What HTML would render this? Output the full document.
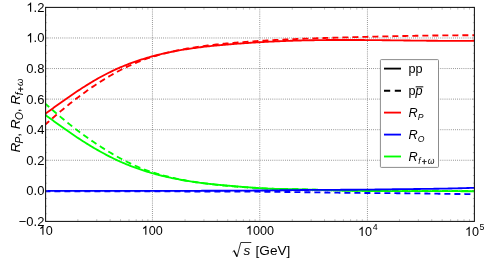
<!DOCTYPE html>
<html><head><meta charset="utf-8"><style>
html,body{margin:0;padding:0;background:#fff;}
svg{display:block;will-change:transform;font-family:"Liberation Sans",sans-serif;}
</style></head><body>
<svg width="485" height="261" viewBox="0 0 485 261">
<rect width="485" height="261" fill="#fff"/>
<g stroke="#2a2a2a" stroke-width="0.6" stroke-dasharray="0.8 1.3" fill="none">
<line x1="152.45" y1="7.4" x2="152.45" y2="221.4"/>
<line x1="259.75" y1="7.4" x2="259.75" y2="221.4"/>
<line x1="367.45" y1="7.4" x2="367.45" y2="221.4"/>
<line x1="45.6" y1="190.83" x2="474.4" y2="190.83"/>
<line x1="45.6" y1="160.26" x2="474.4" y2="160.26"/>
<line x1="45.6" y1="129.69" x2="474.4" y2="129.69"/>
<line x1="45.6" y1="99.11" x2="474.4" y2="99.11"/>
<line x1="45.6" y1="68.54" x2="474.4" y2="68.54"/>
<line x1="45.6" y1="37.97" x2="474.4" y2="37.97"/>
</g>
<g fill="none" stroke-width="1.85">
<path d="M45.60,115.10 L47.03,116.15 L48.47,117.21 L49.90,118.26 L51.34,119.31 L52.77,120.35 L54.20,121.40 L55.64,122.43 L57.07,123.47 L58.51,124.50 L59.94,125.53 L61.38,126.55 L62.81,127.57 L64.24,128.58 L65.68,129.59 L67.11,130.59 L68.55,131.59 L69.98,132.58 L71.41,133.56 L72.85,134.54 L74.28,135.50 L75.72,136.47 L77.15,137.42 L78.58,138.37 L80.02,139.31 L81.45,140.24 L82.89,141.16 L84.32,142.07 L85.76,142.98 L87.19,143.87 L88.62,144.76 L90.06,145.63 L91.49,146.49 L92.93,147.35 L94.36,148.19 L95.79,149.02 L97.23,149.84 L98.66,150.65 L100.10,151.45 L101.53,152.24 L102.96,153.02 L104.40,153.80 L105.83,154.57 L107.27,155.33 L108.70,156.08 L110.14,156.82 L111.57,157.54 L113.00,158.26 L114.44,158.96 L115.87,159.64 L117.31,160.31 L118.74,160.97 L120.17,161.61 L121.61,162.24 L123.04,162.86 L124.48,163.46 L125.91,164.05 L127.34,164.64 L128.78,165.21 L130.21,165.77 L131.65,166.32 L133.08,166.86 L134.52,167.39 L135.95,167.91 L137.38,168.42 L138.82,168.93 L140.25,169.43 L141.69,169.91 L143.12,170.39 L144.55,170.86 L145.99,171.32 L147.42,171.78 L148.86,172.22 L150.29,172.65 L151.72,173.07 L153.16,173.47 L154.59,173.87 L156.03,174.27 L157.46,174.65 L158.89,175.02 L160.33,175.39 L161.76,175.75 L163.20,176.10 L164.63,176.44 L166.07,176.77 L167.50,177.09 L168.93,177.41 L170.37,177.72 L171.80,178.03 L173.24,178.33 L174.67,178.62 L176.10,178.90 L177.54,179.18 L178.97,179.45 L180.41,179.72 L181.84,179.98 L183.27,180.23 L184.71,180.48 L186.14,180.72 L187.58,180.96 L189.01,181.19 L190.45,181.41 L191.88,181.63 L193.31,181.84 L194.75,182.04 L196.18,182.25 L197.62,182.44 L199.05,182.63 L200.48,182.81 L201.92,182.99 L203.35,183.17 L204.79,183.34 L206.22,183.51 L207.65,183.67 L209.09,183.83 L210.52,183.99 L211.96,184.14 L213.39,184.29 L214.83,184.44 L216.26,184.59 L217.69,184.73 L219.13,184.87 L220.56,185.01 L222.00,185.14 L223.43,185.27 L224.86,185.40 L226.30,185.53 L227.73,185.66 L229.17,185.78 L230.60,185.90 L232.03,186.02 L233.47,186.14 L234.90,186.26 L236.34,186.38 L237.77,186.49 L239.21,186.61 L240.64,186.72 L242.07,186.83 L243.51,186.94 L244.94,187.05 L246.38,187.16 L247.81,187.26 L249.24,187.37 L250.68,187.47 L252.11,187.58 L253.55,187.68 L254.98,187.78 L256.41,187.88 L257.85,187.97 L259.28,188.07 L260.72,188.16 L262.15,188.25 L263.59,188.34 L265.02,188.43 L266.45,188.51 L267.89,188.59 L269.32,188.66 L270.76,188.72 L272.19,188.77 L273.62,188.83 L275.06,188.87 L276.49,188.91 L277.93,188.95 L279.36,188.98 L280.79,189.01 L282.23,189.04 L283.66,189.06 L285.10,189.09 L286.53,189.11 L287.97,189.13 L289.40,189.15 L290.83,189.16 L292.27,189.18 L293.70,189.19 L295.14,189.20 L296.57,189.25 L298.00,189.29 L299.44,189.33 L300.87,189.38 L302.31,189.42 L303.74,189.47 L305.17,189.51 L306.61,189.55 L308.04,189.59 L309.48,189.64 L310.91,189.68 L312.35,189.71 L313.78,189.75 L315.21,189.79 L316.65,189.83 L318.08,189.87 L319.52,189.90 L320.95,189.94 L322.38,189.98 L323.82,190.02 L325.25,190.06 L326.69,190.10 L328.12,190.14 L329.55,190.19 L330.99,190.23 L332.42,190.28 L333.86,190.32 L335.29,190.37 L336.73,190.41 L338.16,190.45 L339.59,190.49 L341.03,190.53 L342.46,190.57 L343.90,190.61 L345.33,190.65 L346.76,190.69 L348.20,190.72 L349.63,190.76 L351.07,190.79 L352.50,190.82 L353.93,190.84 L355.37,190.85 L356.80,190.87 L358.24,190.88 L359.67,190.89 L361.11,190.91 L362.54,190.92 L363.97,190.93 L365.41,190.94 L366.84,190.95 L368.28,190.96 L369.71,190.97 L371.14,190.98 L372.58,190.99 L374.01,191.00 L375.45,191.01 L376.88,191.02 L378.31,191.02 L379.75,191.03 L381.18,191.04 L382.62,191.04 L384.05,191.05 L385.48,191.06 L386.92,191.06 L388.35,191.07 L389.79,191.07 L391.22,191.08 L392.66,191.08 L394.09,191.08 L395.52,191.09 L396.96,191.09 L398.39,191.10 L399.83,191.10 L401.26,191.10 L402.69,191.11 L404.13,191.11 L405.56,191.11 L407.00,191.12 L408.43,191.12 L409.86,191.12 L411.30,191.12 L412.73,191.13 L414.17,191.13 L415.60,191.13 L417.04,191.14 L418.47,191.14 L419.90,191.14 L421.34,191.14 L422.77,191.15 L424.21,191.15 L425.64,191.15 L427.07,191.16 L428.51,191.16 L429.94,191.16 L431.38,191.16 L432.81,191.16 L434.24,191.17 L435.68,191.17 L437.11,191.17 L438.55,191.17 L439.98,191.18 L441.42,191.18 L442.85,191.18 L444.28,191.18 L445.72,191.18 L447.15,191.18 L448.59,191.19 L450.02,191.19 L451.45,191.19 L452.89,191.19 L454.32,191.19 L455.76,191.19 L457.19,191.19 L458.62,191.19 L460.06,191.20 L461.49,191.20 L462.93,191.20 L464.36,191.20 L465.80,191.20 L467.23,191.20 L468.66,191.20 L470.10,191.20 L471.53,191.20 L472.97,191.20 L474.40,191.20" stroke="#00ff00"/>
<path d="M45.60,103.89 L47.03,105.18 L48.47,106.46 L49.90,107.73 L51.34,108.99 L52.77,110.25 L54.20,111.50 L55.64,112.74 L57.07,113.97 L58.51,115.19 L59.94,116.40 L61.38,117.61 L62.81,118.80 L64.24,119.99 L65.68,121.16 L67.11,122.33 L68.55,123.49 L69.98,124.64 L71.41,125.77 L72.85,126.90 L74.28,128.02 L75.72,129.13 L77.15,130.23 L78.58,131.31 L80.02,132.39 L81.45,133.46 L82.89,134.52 L84.32,135.56 L85.76,136.60 L87.19,137.62 L88.62,138.63 L90.06,139.63 L91.49,140.62 L92.93,141.60 L94.36,142.57 L95.79,143.53 L97.23,144.47 L98.66,145.40 L100.10,146.33 L101.53,147.24 L102.96,148.15 L104.40,149.05 L105.83,149.94 L107.27,150.83 L108.70,151.70 L110.14,152.57 L111.57,153.42 L113.00,154.27 L114.44,155.10 L115.87,155.91 L117.31,156.72 L118.74,157.50 L120.17,158.28 L121.61,159.04 L123.04,159.79 L124.48,160.52 L125.91,161.25 L127.34,161.96 L128.78,162.66 L130.21,163.36 L131.65,164.04 L133.08,164.70 L134.52,165.36 L135.95,166.00 L137.38,166.63 L138.82,167.24 L140.25,167.83 L141.69,168.41 L143.12,168.97 L144.55,169.52 L145.99,170.05 L147.42,170.56 L148.86,171.06 L150.29,171.55 L151.72,172.02 L153.16,172.48 L154.59,172.93 L156.03,173.37 L157.46,173.80 L158.89,174.22 L160.33,174.62 L161.76,175.02 L163.20,175.41 L164.63,175.79 L166.07,176.16 L167.50,176.52 L168.93,176.88 L170.37,177.23 L171.80,177.56 L173.24,177.89 L174.67,178.22 L176.10,178.53 L177.54,178.84 L178.97,179.14 L180.41,179.44 L181.84,179.72 L183.27,180.00 L184.71,180.28 L186.14,180.54 L187.58,180.80 L189.01,181.05 L190.45,181.30 L191.88,181.54 L193.31,181.77 L194.75,182.00 L196.18,182.22 L197.62,182.43 L199.05,182.64 L200.48,182.84 L201.92,183.04 L203.35,183.23 L204.79,183.42 L206.22,183.60 L207.65,183.78 L209.09,183.95 L210.52,184.12 L211.96,184.29 L213.39,184.45 L214.83,184.61 L216.26,184.76 L217.69,184.91 L219.13,185.06 L220.56,185.20 L222.00,185.35 L223.43,185.48 L224.86,185.62 L226.30,185.75 L227.73,185.88 L229.17,186.01 L230.60,186.13 L232.03,186.25 L233.47,186.37 L234.90,186.49 L236.34,186.61 L237.77,186.72 L239.21,186.83 L240.64,186.94 L242.07,187.05 L243.51,187.16 L244.94,187.26 L246.38,187.36 L247.81,187.47 L249.24,187.56 L250.68,187.66 L252.11,187.76 L253.55,187.85 L254.98,187.94 L256.41,188.03 L257.85,188.12 L259.28,188.20 L260.72,188.29 L262.15,188.37 L263.59,188.44 L265.02,188.52 L266.45,188.58 L267.89,188.63 L269.32,188.68 L270.76,188.72 L272.19,188.76 L273.62,188.79 L275.06,188.82 L276.49,188.84 L277.93,188.87 L279.36,188.89 L280.79,188.91 L282.23,188.92 L283.66,188.94 L285.10,188.96 L286.53,188.98 L287.97,189.00 L289.40,189.02 L290.83,189.04 L292.27,189.06 L293.70,189.08 L295.14,189.10 L296.57,189.15 L298.00,189.19 L299.44,189.23 L300.87,189.27 L302.31,189.32 L303.74,189.36 L305.17,189.41 L306.61,189.45 L308.04,189.49 L309.48,189.54 L310.91,189.58 L312.35,189.61 L313.78,189.65 L315.21,189.69 L316.65,189.73 L318.08,189.77 L319.52,189.80 L320.95,189.84 L322.38,189.88 L323.82,189.92 L325.25,189.96 L326.69,190.00 L328.12,190.04 L329.55,190.09 L330.99,190.13 L332.42,190.18 L333.86,190.23 L335.29,190.27 L336.73,190.31 L338.16,190.35 L339.59,190.39 L341.03,190.43 L342.46,190.46 L343.90,190.50 L345.33,190.53 L346.76,190.57 L348.20,190.60 L349.63,190.63 L351.07,190.66 L352.50,190.68 L353.93,190.69 L355.37,190.70 L356.80,190.71 L358.24,190.71 L359.67,190.72 L361.11,190.73 L362.54,190.73 L363.97,190.74 L365.41,190.74 L366.84,190.75 L368.28,190.75 L369.71,190.76 L371.14,190.76 L372.58,190.76 L374.01,190.77 L375.45,190.77 L376.88,190.77 L378.31,190.78 L379.75,190.78 L381.18,190.78 L382.62,190.79 L384.05,190.79 L385.48,190.79 L386.92,190.79 L388.35,190.79 L389.79,190.80 L391.22,190.80 L392.66,190.80 L394.09,190.80 L395.52,190.80 L396.96,190.80 L398.39,190.80 L399.83,190.80 L401.26,190.80 L402.69,190.80 L404.13,190.80 L405.56,190.80 L407.00,190.80 L408.43,190.80 L409.86,190.80 L411.30,190.80 L412.73,190.80 L414.17,190.80 L415.60,190.80 L417.04,190.80 L418.47,190.80 L419.90,190.80 L421.34,190.80 L422.77,190.80 L424.21,190.80 L425.64,190.80 L427.07,190.80 L428.51,190.80 L429.94,190.80 L431.38,190.80 L432.81,190.80 L434.24,190.80 L435.68,190.80 L437.11,190.80 L438.55,190.80 L439.98,190.80 L441.42,190.80 L442.85,190.80 L444.28,190.80 L445.72,190.80 L447.15,190.80 L448.59,190.80 L450.02,190.80 L451.45,190.80 L452.89,190.80 L454.32,190.80 L455.76,190.80 L457.19,190.80 L458.62,190.80 L460.06,190.80 L461.49,190.80 L462.93,190.80 L464.36,190.80 L465.80,190.80 L467.23,190.80 L468.66,190.80 L470.10,190.80 L471.53,190.80 L472.97,190.80 L474.40,190.80" stroke="#00ff00" stroke-dasharray="6 4" stroke-dashoffset="1.2"/>
<path d="M45.60,190.90 L47.03,190.90 L48.47,190.90 L49.90,190.90 L51.34,190.90 L52.77,190.90 L54.20,190.90 L55.64,190.90 L57.07,190.90 L58.51,190.90 L59.94,190.90 L61.38,190.90 L62.81,190.90 L64.24,190.90 L65.68,190.90 L67.11,190.90 L68.55,190.90 L69.98,190.90 L71.41,190.90 L72.85,190.90 L74.28,190.90 L75.72,190.90 L77.15,190.90 L78.58,190.90 L80.02,190.90 L81.45,190.90 L82.89,190.90 L84.32,190.90 L85.76,190.90 L87.19,190.90 L88.62,190.90 L90.06,190.90 L91.49,190.90 L92.93,190.90 L94.36,190.90 L95.79,190.90 L97.23,190.90 L98.66,190.90 L100.10,190.90 L101.53,190.90 L102.96,190.90 L104.40,190.90 L105.83,190.90 L107.27,190.90 L108.70,190.90 L110.14,190.90 L111.57,190.90 L113.00,190.90 L114.44,190.90 L115.87,190.90 L117.31,190.90 L118.74,190.90 L120.17,190.90 L121.61,190.90 L123.04,190.90 L124.48,190.90 L125.91,190.90 L127.34,190.90 L128.78,190.90 L130.21,190.90 L131.65,190.90 L133.08,190.90 L134.52,190.90 L135.95,190.90 L137.38,190.90 L138.82,190.90 L140.25,190.90 L141.69,190.90 L143.12,190.90 L144.55,190.90 L145.99,190.90 L147.42,190.90 L148.86,190.90 L150.29,190.90 L151.72,190.90 L153.16,190.90 L154.59,190.90 L156.03,190.90 L157.46,190.90 L158.89,190.90 L160.33,190.89 L161.76,190.89 L163.20,190.89 L164.63,190.89 L166.07,190.89 L167.50,190.88 L168.93,190.88 L170.37,190.88 L171.80,190.87 L173.24,190.87 L174.67,190.87 L176.10,190.87 L177.54,190.86 L178.97,190.86 L180.41,190.85 L181.84,190.85 L183.27,190.85 L184.71,190.84 L186.14,190.84 L187.58,190.84 L189.01,190.83 L190.45,190.83 L191.88,190.82 L193.31,190.82 L194.75,190.81 L196.18,190.81 L197.62,190.81 L199.05,190.80 L200.48,190.80 L201.92,190.79 L203.35,190.79 L204.79,190.79 L206.22,190.78 L207.65,190.78 L209.09,190.77 L210.52,190.77 L211.96,190.76 L213.39,190.76 L214.83,190.75 L216.26,190.74 L217.69,190.74 L219.13,190.73 L220.56,190.73 L222.00,190.72 L223.43,190.71 L224.86,190.71 L226.30,190.70 L227.73,190.69 L229.17,190.69 L230.60,190.68 L232.03,190.67 L233.47,190.66 L234.90,190.66 L236.34,190.65 L237.77,190.64 L239.21,190.63 L240.64,190.62 L242.07,190.62 L243.51,190.61 L244.94,190.60 L246.38,190.59 L247.81,190.58 L249.24,190.57 L250.68,190.56 L252.11,190.55 L253.55,190.54 L254.98,190.53 L256.41,190.52 L257.85,190.51 L259.28,190.50 L260.72,190.49 L262.15,190.48 L263.59,190.47 L265.02,190.46 L266.45,190.45 L267.89,190.43 L269.32,190.42 L270.76,190.40 L272.19,190.39 L273.62,190.37 L275.06,190.35 L276.49,190.34 L277.93,190.32 L279.36,190.30 L280.79,190.28 L282.23,190.26 L283.66,190.24 L285.10,190.23 L286.53,190.21 L287.97,190.19 L289.40,190.17 L290.83,190.15 L292.27,190.13 L293.70,190.12 L295.14,190.10 L296.57,190.08 L298.00,190.07 L299.44,190.05 L300.87,190.03 L302.31,190.02 L303.74,190.00 L305.17,189.99 L306.61,189.98 L308.04,189.97 L309.48,189.95 L310.91,189.94 L312.35,189.93 L313.78,189.92 L315.21,189.91 L316.65,189.91 L318.08,189.90 L319.52,189.89 L320.95,189.88 L322.38,189.87 L323.82,189.87 L325.25,189.86 L326.69,189.85 L328.12,189.85 L329.55,189.84 L330.99,189.83 L332.42,189.83 L333.86,189.82 L335.29,189.81 L336.73,189.81 L338.16,189.80 L339.59,189.80 L341.03,189.79 L342.46,189.78 L343.90,189.78 L345.33,189.77 L346.76,189.76 L348.20,189.76 L349.63,189.75 L351.07,189.74 L352.50,189.73 L353.93,189.73 L355.37,189.72 L356.80,189.71 L358.24,189.70 L359.67,189.69 L361.11,189.68 L362.54,189.67 L363.97,189.66 L365.41,189.65 L366.84,189.63 L368.28,189.62 L369.71,189.60 L371.14,189.59 L372.58,189.57 L374.01,189.55 L375.45,189.53 L376.88,189.51 L378.31,189.49 L379.75,189.47 L381.18,189.45 L382.62,189.43 L384.05,189.41 L385.48,189.38 L386.92,189.36 L388.35,189.34 L389.79,189.32 L391.22,189.30 L392.66,189.28 L394.09,189.26 L395.52,189.24 L396.96,189.23 L398.39,189.21 L399.83,189.19 L401.26,189.18 L402.69,189.16 L404.13,189.14 L405.56,189.13 L407.00,189.11 L408.43,189.10 L409.86,189.08 L411.30,189.06 L412.73,189.05 L414.17,189.03 L415.60,189.02 L417.04,189.00 L418.47,188.98 L419.90,188.96 L421.34,188.95 L422.77,188.93 L424.21,188.91 L425.64,188.89 L427.07,188.87 L428.51,188.85 L429.94,188.83 L431.38,188.82 L432.81,188.80 L434.24,188.78 L435.68,188.75 L437.11,188.73 L438.55,188.71 L439.98,188.69 L441.42,188.66 L442.85,188.64 L444.28,188.61 L445.72,188.59 L447.15,188.56 L448.59,188.53 L450.02,188.50 L451.45,188.46 L452.89,188.43 L454.32,188.40 L455.76,188.36 L457.19,188.32 L458.62,188.29 L460.06,188.25 L461.49,188.21 L462.93,188.17 L464.36,188.12 L465.80,188.08 L467.23,188.04 L468.66,187.99 L470.10,187.94 L471.53,187.90 L472.97,187.85 L474.40,187.80" stroke="#0000ff"/>
<path d="M45.60,191.40 L47.03,191.40 L48.47,191.40 L49.90,191.40 L51.34,191.40 L52.77,191.40 L54.20,191.40 L55.64,191.40 L57.07,191.40 L58.51,191.40 L59.94,191.40 L61.38,191.40 L62.81,191.40 L64.24,191.40 L65.68,191.40 L67.11,191.40 L68.55,191.40 L69.98,191.40 L71.41,191.40 L72.85,191.40 L74.28,191.40 L75.72,191.40 L77.15,191.40 L78.58,191.40 L80.02,191.40 L81.45,191.40 L82.89,191.40 L84.32,191.40 L85.76,191.40 L87.19,191.40 L88.62,191.40 L90.06,191.40 L91.49,191.40 L92.93,191.40 L94.36,191.40 L95.79,191.40 L97.23,191.40 L98.66,191.40 L100.10,191.40 L101.53,191.40 L102.96,191.40 L104.40,191.40 L105.83,191.40 L107.27,191.40 L108.70,191.40 L110.14,191.40 L111.57,191.40 L113.00,191.40 L114.44,191.40 L115.87,191.40 L117.31,191.40 L118.74,191.40 L120.17,191.40 L121.61,191.40 L123.04,191.40 L124.48,191.40 L125.91,191.40 L127.34,191.40 L128.78,191.40 L130.21,191.40 L131.65,191.40 L133.08,191.40 L134.52,191.40 L135.95,191.40 L137.38,191.40 L138.82,191.40 L140.25,191.40 L141.69,191.40 L143.12,191.40 L144.55,191.40 L145.99,191.40 L147.42,191.40 L148.86,191.40 L150.29,191.40 L151.72,191.40 L153.16,191.40 L154.59,191.40 L156.03,191.40 L157.46,191.40 L158.89,191.41 L160.33,191.41 L161.76,191.41 L163.20,191.41 L164.63,191.41 L166.07,191.42 L167.50,191.42 L168.93,191.42 L170.37,191.42 L171.80,191.43 L173.24,191.43 L174.67,191.43 L176.10,191.44 L177.54,191.44 L178.97,191.44 L180.41,191.45 L181.84,191.45 L183.27,191.46 L184.71,191.46 L186.14,191.46 L187.58,191.47 L189.01,191.47 L190.45,191.47 L191.88,191.48 L193.31,191.48 L194.75,191.49 L196.18,191.49 L197.62,191.49 L199.05,191.50 L200.48,191.50 L201.92,191.50 L203.35,191.51 L204.79,191.51 L206.22,191.52 L207.65,191.52 L209.09,191.52 L210.52,191.53 L211.96,191.53 L213.39,191.53 L214.83,191.54 L216.26,191.54 L217.69,191.54 L219.13,191.55 L220.56,191.55 L222.00,191.56 L223.43,191.56 L224.86,191.56 L226.30,191.57 L227.73,191.57 L229.17,191.58 L230.60,191.58 L232.03,191.59 L233.47,191.59 L234.90,191.59 L236.34,191.60 L237.77,191.60 L239.21,191.61 L240.64,191.61 L242.07,191.62 L243.51,191.63 L244.94,191.63 L246.38,191.64 L247.81,191.64 L249.24,191.65 L250.68,191.65 L252.11,191.66 L253.55,191.67 L254.98,191.67 L256.41,191.68 L257.85,191.69 L259.28,191.70 L260.72,191.70 L262.15,191.71 L263.59,191.72 L265.02,191.73 L266.45,191.74 L267.89,191.76 L269.32,191.77 L270.76,191.78 L272.19,191.80 L273.62,191.81 L275.06,191.83 L276.49,191.85 L277.93,191.86 L279.36,191.88 L280.79,191.90 L282.23,191.92 L283.66,191.94 L285.10,191.96 L286.53,191.98 L287.97,192.00 L289.40,192.02 L290.83,192.04 L292.27,192.06 L293.70,192.08 L295.14,192.10 L296.57,192.12 L298.00,192.14 L299.44,192.16 L300.87,192.18 L302.31,192.20 L303.74,192.22 L305.17,192.24 L306.61,192.26 L308.04,192.28 L309.48,192.29 L310.91,192.31 L312.35,192.33 L313.78,192.35 L315.21,192.37 L316.65,192.39 L318.08,192.40 L319.52,192.42 L320.95,192.44 L322.38,192.46 L323.82,192.48 L325.25,192.50 L326.69,192.52 L328.12,192.54 L329.55,192.56 L330.99,192.59 L332.42,192.61 L333.86,192.63 L335.29,192.65 L336.73,192.67 L338.16,192.69 L339.59,192.71 L341.03,192.72 L342.46,192.74 L343.90,192.76 L345.33,192.78 L346.76,192.80 L348.20,192.82 L349.63,192.84 L351.07,192.85 L352.50,192.87 L353.93,192.89 L355.37,192.90 L356.80,192.92 L358.24,192.94 L359.67,192.95 L361.11,192.96 L362.54,192.98 L363.97,192.99 L365.41,193.00 L366.84,193.02 L368.28,193.03 L369.71,193.04 L371.14,193.05 L372.58,193.06 L374.01,193.07 L375.45,193.07 L376.88,193.08 L378.31,193.09 L379.75,193.10 L381.18,193.11 L382.62,193.12 L384.05,193.13 L385.48,193.13 L386.92,193.14 L388.35,193.15 L389.79,193.16 L391.22,193.17 L392.66,193.18 L394.09,193.19 L395.52,193.20 L396.96,193.22 L398.39,193.23 L399.83,193.24 L401.26,193.25 L402.69,193.26 L404.13,193.28 L405.56,193.29 L407.00,193.30 L408.43,193.32 L409.86,193.33 L411.30,193.35 L412.73,193.36 L414.17,193.38 L415.60,193.39 L417.04,193.41 L418.47,193.42 L419.90,193.44 L421.34,193.46 L422.77,193.47 L424.21,193.49 L425.64,193.51 L427.07,193.53 L428.51,193.55 L429.94,193.57 L431.38,193.60 L432.81,193.62 L434.24,193.65 L435.68,193.67 L437.11,193.70 L438.55,193.72 L439.98,193.75 L441.42,193.77 L442.85,193.80 L444.28,193.82 L445.72,193.84 L447.15,193.86 L448.59,193.88 L450.02,193.90 L451.45,193.92 L452.89,193.93 L454.32,193.95 L455.76,193.96 L457.19,193.97 L458.62,193.99 L460.06,194.00 L461.49,194.01 L462.93,194.03 L464.36,194.04 L465.80,194.05 L467.23,194.06 L468.66,194.07 L470.10,194.08 L471.53,194.09 L472.97,194.09 L474.40,194.10" stroke="#0000ff" stroke-dasharray="6 4" stroke-dashoffset="1.2"/>
<path d="M45.60,113.63 L47.03,112.57 L48.47,111.52 L49.90,110.47 L51.34,109.42 L52.77,108.38 L54.20,107.33 L55.64,106.29 L57.07,105.26 L58.51,104.23 L59.94,103.20 L61.38,102.18 L62.81,101.16 L64.24,100.15 L65.68,99.14 L67.11,98.14 L68.55,97.14 L69.98,96.15 L71.41,95.17 L72.85,94.19 L74.28,93.22 L75.72,92.26 L77.15,91.31 L78.58,90.36 L80.02,89.42 L81.45,88.49 L82.89,87.57 L84.32,86.66 L85.76,85.75 L87.19,84.86 L88.62,83.97 L90.06,83.10 L91.49,82.23 L92.93,81.38 L94.36,80.54 L95.79,79.70 L97.23,78.88 L98.66,78.07 L100.10,77.28 L101.53,76.49 L102.96,75.72 L104.40,74.96 L105.83,74.21 L107.27,73.48 L108.70,72.76 L110.14,72.05 L111.57,71.36 L113.00,70.67 L114.44,70.00 L115.87,69.35 L117.31,68.70 L118.74,68.07 L120.17,67.45 L121.61,66.84 L123.04,66.24 L124.48,65.66 L125.91,65.08 L127.34,64.52 L128.78,63.97 L130.21,63.43 L131.65,62.90 L133.08,62.38 L134.52,61.87 L135.95,61.37 L137.38,60.88 L138.82,60.40 L140.25,59.93 L141.69,59.47 L143.12,59.02 L144.55,58.58 L145.99,58.15 L147.42,57.73 L148.86,57.31 L150.29,56.91 L151.72,56.51 L153.16,56.12 L154.59,55.74 L156.03,55.37 L157.46,55.01 L158.89,54.65 L160.33,54.30 L161.76,53.96 L163.20,53.63 L164.63,53.30 L166.07,52.98 L167.50,52.67 L168.93,52.37 L170.37,52.07 L171.80,51.78 L173.24,51.50 L174.67,51.22 L176.10,50.95 L177.54,50.68 L178.97,50.43 L180.41,50.17 L181.84,49.93 L183.27,49.69 L184.71,49.45 L186.14,49.22 L187.58,49.00 L189.01,48.78 L190.45,48.57 L191.88,48.36 L193.31,48.16 L194.75,47.96 L196.18,47.77 L197.62,47.58 L199.05,47.40 L200.48,47.22 L201.92,47.04 L203.35,46.87 L204.79,46.70 L206.22,46.54 L207.65,46.38 L209.09,46.23 L210.52,46.07 L211.96,45.92 L213.39,45.78 L214.83,45.64 L216.26,45.50 L217.69,45.36 L219.13,45.23 L220.56,45.10 L222.00,44.97 L223.43,44.84 L224.86,44.72 L226.30,44.60 L227.73,44.48 L229.17,44.36 L230.60,44.25 L232.03,44.13 L233.47,44.02 L234.90,43.91 L236.34,43.80 L237.77,43.70 L239.21,43.59 L240.64,43.49 L242.07,43.38 L243.51,43.28 L244.94,43.18 L246.38,43.08 L247.81,42.98 L249.24,42.89 L250.68,42.79 L252.11,42.70 L253.55,42.61 L254.98,42.52 L256.41,42.43 L257.85,42.34 L259.28,42.26 L260.72,42.17 L262.15,42.09 L263.59,42.01 L265.02,41.93 L266.45,41.85 L267.89,41.77 L269.32,41.70 L270.76,41.63 L272.19,41.56 L273.62,41.49 L275.06,41.42 L276.49,41.35 L277.93,41.29 L279.36,41.22 L280.79,41.16 L282.23,41.10 L283.66,41.04 L285.10,40.99 L286.53,40.93 L287.97,40.88 L289.40,40.83 L290.83,40.78 L292.27,40.73 L293.70,40.68 L295.14,40.64 L296.57,40.60 L298.00,40.56 L299.44,40.52 L300.87,40.48 L302.31,40.44 L303.74,40.41 L305.17,40.37 L306.61,40.34 L308.04,40.31 L309.48,40.28 L310.91,40.26 L312.35,40.23 L313.78,40.21 L315.21,40.18 L316.65,40.16 L318.08,40.14 L319.52,40.12 L320.95,40.10 L322.38,40.09 L323.82,40.07 L325.25,40.06 L326.69,40.04 L328.12,40.03 L329.55,40.02 L330.99,40.01 L332.42,40.00 L333.86,39.99 L335.29,39.99 L336.73,39.98 L338.16,39.98 L339.59,39.97 L341.03,39.97 L342.46,39.97 L343.90,39.97 L345.33,39.97 L346.76,39.97 L348.20,39.97 L349.63,39.98 L351.07,39.98 L352.50,39.98 L353.93,39.99 L355.37,39.99 L356.80,40.00 L358.24,40.01 L359.67,40.02 L361.11,40.03 L362.54,40.03 L363.97,40.04 L365.41,40.05 L366.84,40.07 L368.28,40.08 L369.71,40.09 L371.14,40.10 L372.58,40.11 L374.01,40.13 L375.45,40.14 L376.88,40.15 L378.31,40.17 L379.75,40.18 L381.18,40.20 L382.62,40.21 L384.05,40.23 L385.48,40.25 L386.92,40.26 L388.35,40.28 L389.79,40.29 L391.22,40.31 L392.66,40.33 L394.09,40.35 L395.52,40.36 L396.96,40.38 L398.39,40.40 L399.83,40.41 L401.26,40.43 L402.69,40.45 L404.13,40.47 L405.56,40.48 L407.00,40.50 L408.43,40.52 L409.86,40.53 L411.30,40.55 L412.73,40.57 L414.17,40.58 L415.60,40.60 L417.04,40.61 L418.47,40.63 L419.90,40.64 L421.34,40.66 L422.77,40.67 L424.21,40.69 L425.64,40.70 L427.07,40.71 L428.51,40.73 L429.94,40.74 L431.38,40.75 L432.81,40.76 L434.24,40.77 L435.68,40.78 L437.11,40.79 L438.55,40.80 L439.98,40.81 L441.42,40.82 L442.85,40.83 L444.28,40.83 L445.72,40.84 L447.15,40.84 L448.59,40.85 L450.02,40.85 L451.45,40.85 L452.89,40.86 L454.32,40.86 L455.76,40.86 L457.19,40.86 L458.62,40.86 L460.06,40.85 L461.49,40.85 L462.93,40.85 L464.36,40.84 L465.80,40.83 L467.23,40.83 L468.66,40.82 L470.10,40.81 L471.53,40.80 L472.97,40.79 L474.40,40.77" stroke="#ff0000"/>
<path d="M45.60,124.34 L47.03,123.05 L48.47,121.77 L49.90,120.50 L51.34,119.23 L52.77,117.98 L54.20,116.73 L55.64,115.49 L57.07,114.26 L58.51,113.04 L59.94,111.83 L61.38,110.62 L62.81,109.43 L64.24,108.24 L65.68,107.06 L67.11,105.90 L68.55,104.74 L69.98,103.59 L71.41,102.45 L72.85,101.33 L74.28,100.21 L75.72,99.10 L77.15,98.00 L78.58,96.91 L80.02,95.84 L81.45,94.77 L82.89,93.71 L84.32,92.67 L85.76,91.63 L87.19,90.61 L88.62,89.60 L90.06,88.59 L91.49,87.60 L92.93,86.62 L94.36,85.66 L95.79,84.70 L97.23,83.76 L98.66,82.82 L100.10,81.90 L101.53,80.99 L102.96,80.10 L104.40,79.21 L105.83,78.34 L107.27,77.48 L108.70,76.63 L110.14,75.80 L111.57,74.98 L113.00,74.16 L114.44,73.37 L115.87,72.58 L117.31,71.80 L118.74,71.04 L120.17,70.28 L121.61,69.54 L123.04,68.81 L124.48,68.10 L125.91,67.39 L127.34,66.70 L128.78,66.01 L130.21,65.34 L131.65,64.68 L133.08,64.03 L134.52,63.40 L135.95,62.78 L137.38,62.17 L138.82,61.59 L140.25,61.02 L141.69,60.48 L143.12,59.94 L144.55,59.43 L145.99,58.93 L147.42,58.44 L148.86,57.96 L150.29,57.50 L151.72,57.05 L153.16,56.61 L154.59,56.18 L156.03,55.76 L157.46,55.35 L158.89,54.95 L160.33,54.55 L161.76,54.17 L163.20,53.79 L164.63,53.42 L166.07,53.06 L167.50,52.71 L168.93,52.36 L170.37,52.02 L171.80,51.69 L173.24,51.37 L174.67,51.05 L176.10,50.75 L177.54,50.45 L178.97,50.15 L180.41,49.86 L181.84,49.58 L183.27,49.31 L184.71,49.04 L186.14,48.78 L187.58,48.53 L189.01,48.28 L190.45,48.03 L191.88,47.80 L193.31,47.56 L194.75,47.34 L196.18,47.12 L197.62,46.90 L199.05,46.69 L200.48,46.49 L201.92,46.29 L203.35,46.09 L204.79,45.90 L206.22,45.71 L207.65,45.53 L209.09,45.35 L210.52,45.18 L211.96,45.01 L213.39,44.85 L214.83,44.68 L216.26,44.53 L217.69,44.37 L219.13,44.22 L220.56,44.07 L222.00,43.93 L223.43,43.79 L224.86,43.65 L226.30,43.51 L227.73,43.38 L229.17,43.24 L230.60,43.12 L232.03,42.99 L233.47,42.86 L234.90,42.74 L236.34,42.62 L237.77,42.50 L239.21,42.39 L240.64,42.27 L242.07,42.16 L243.51,42.05 L244.94,41.94 L246.38,41.83 L247.81,41.72 L249.24,41.62 L250.68,41.51 L252.11,41.41 L253.55,41.31 L254.98,41.21 L256.41,41.12 L257.85,41.02 L259.28,40.93 L260.72,40.84 L262.15,40.75 L263.59,40.66 L265.02,40.57 L266.45,40.49 L267.89,40.40 L269.32,40.32 L270.76,40.24 L272.19,40.16 L273.62,40.08 L275.06,40.00 L276.49,39.93 L277.93,39.85 L279.36,39.78 L280.79,39.71 L282.23,39.64 L283.66,39.57 L285.10,39.50 L286.53,39.44 L287.97,39.37 L289.40,39.31 L290.83,39.24 L292.27,39.18 L293.70,39.12 L295.14,39.06 L296.57,39.01 L298.00,38.95 L299.44,38.89 L300.87,38.84 L302.31,38.78 L303.74,38.73 L305.17,38.68 L306.61,38.63 L308.04,38.58 L309.48,38.52 L310.91,38.47 L312.35,38.42 L313.78,38.38 L315.21,38.33 L316.65,38.28 L318.08,38.23 L319.52,38.18 L320.95,38.14 L322.38,38.09 L323.82,38.04 L325.25,38.00 L326.69,37.95 L328.12,37.90 L329.55,37.86 L330.99,37.81 L332.42,37.77 L333.86,37.72 L335.29,37.68 L336.73,37.64 L338.16,37.59 L339.59,37.55 L341.03,37.51 L342.46,37.47 L343.90,37.42 L345.33,37.38 L346.76,37.34 L348.20,37.30 L349.63,37.26 L351.07,37.22 L352.50,37.18 L353.93,37.14 L355.37,37.10 L356.80,37.06 L358.24,37.02 L359.67,36.98 L361.11,36.95 L362.54,36.91 L363.97,36.87 L365.41,36.83 L366.84,36.80 L368.28,36.76 L369.71,36.73 L371.14,36.69 L372.58,36.66 L374.01,36.62 L375.45,36.59 L376.88,36.55 L378.31,36.52 L379.75,36.49 L381.18,36.45 L382.62,36.42 L384.05,36.39 L385.48,36.36 L386.92,36.33 L388.35,36.30 L389.79,36.27 L391.22,36.24 L392.66,36.21 L394.09,36.18 L395.52,36.15 L396.96,36.12 L398.39,36.09 L399.83,36.06 L401.26,36.04 L402.69,36.01 L404.13,35.98 L405.56,35.96 L407.00,35.93 L408.43,35.91 L409.86,35.88 L411.30,35.86 L412.73,35.83 L414.17,35.81 L415.60,35.79 L417.04,35.76 L418.47,35.74 L419.90,35.72 L421.34,35.70 L422.77,35.68 L424.21,35.66 L425.64,35.64 L427.07,35.62 L428.51,35.60 L429.94,35.58 L431.38,35.56 L432.81,35.54 L434.24,35.52 L435.68,35.51 L437.11,35.49 L438.55,35.47 L439.98,35.46 L441.42,35.44 L442.85,35.43 L444.28,35.41 L445.72,35.40 L447.15,35.38 L448.59,35.37 L450.02,35.36 L451.45,35.35 L452.89,35.33 L454.32,35.32 L455.76,35.31 L457.19,35.30 L458.62,35.29 L460.06,35.28 L461.49,35.27 L462.93,35.26 L464.36,35.26 L465.80,35.25 L467.23,35.24 L468.66,35.23 L470.10,35.23 L471.53,35.22 L472.97,35.22 L474.40,35.21" stroke="#ff0000" stroke-dasharray="6 4" stroke-dashoffset="1.2"/>
</g>
<g stroke="#888" stroke-width="0.5">
<line x1="77.87" y1="221.4" x2="77.87" y2="219.1"/>
<line x1="77.87" y1="7.4" x2="77.87" y2="9.7"/>
<line x1="96.75" y1="221.4" x2="96.75" y2="219.1"/>
<line x1="96.75" y1="7.4" x2="96.75" y2="9.7"/>
<line x1="110.14" y1="221.4" x2="110.14" y2="219.1"/>
<line x1="110.14" y1="7.4" x2="110.14" y2="9.7"/>
<line x1="120.53" y1="221.4" x2="120.53" y2="219.1"/>
<line x1="120.53" y1="7.4" x2="120.53" y2="9.7"/>
<line x1="129.02" y1="221.4" x2="129.02" y2="219.1"/>
<line x1="129.02" y1="7.4" x2="129.02" y2="9.7"/>
<line x1="136.19" y1="221.4" x2="136.19" y2="219.1"/>
<line x1="136.19" y1="7.4" x2="136.19" y2="9.7"/>
<line x1="142.41" y1="221.4" x2="142.41" y2="219.1"/>
<line x1="142.41" y1="7.4" x2="142.41" y2="9.7"/>
<line x1="147.89" y1="221.4" x2="147.89" y2="219.1"/>
<line x1="147.89" y1="7.4" x2="147.89" y2="9.7"/>
<line x1="185.07" y1="221.4" x2="185.07" y2="219.1"/>
<line x1="185.07" y1="7.4" x2="185.07" y2="9.7"/>
<line x1="203.95" y1="221.4" x2="203.95" y2="219.1"/>
<line x1="203.95" y1="7.4" x2="203.95" y2="9.7"/>
<line x1="217.34" y1="221.4" x2="217.34" y2="219.1"/>
<line x1="217.34" y1="7.4" x2="217.34" y2="9.7"/>
<line x1="227.73" y1="221.4" x2="227.73" y2="219.1"/>
<line x1="227.73" y1="7.4" x2="227.73" y2="9.7"/>
<line x1="236.22" y1="221.4" x2="236.22" y2="219.1"/>
<line x1="236.22" y1="7.4" x2="236.22" y2="9.7"/>
<line x1="243.39" y1="221.4" x2="243.39" y2="219.1"/>
<line x1="243.39" y1="7.4" x2="243.39" y2="9.7"/>
<line x1="249.61" y1="221.4" x2="249.61" y2="219.1"/>
<line x1="249.61" y1="7.4" x2="249.61" y2="9.7"/>
<line x1="255.09" y1="221.4" x2="255.09" y2="219.1"/>
<line x1="255.09" y1="7.4" x2="255.09" y2="9.7"/>
<line x1="292.27" y1="221.4" x2="292.27" y2="219.1"/>
<line x1="292.27" y1="7.4" x2="292.27" y2="9.7"/>
<line x1="311.15" y1="221.4" x2="311.15" y2="219.1"/>
<line x1="311.15" y1="7.4" x2="311.15" y2="9.7"/>
<line x1="324.54" y1="221.4" x2="324.54" y2="219.1"/>
<line x1="324.54" y1="7.4" x2="324.54" y2="9.7"/>
<line x1="334.93" y1="221.4" x2="334.93" y2="219.1"/>
<line x1="334.93" y1="7.4" x2="334.93" y2="9.7"/>
<line x1="343.42" y1="221.4" x2="343.42" y2="219.1"/>
<line x1="343.42" y1="7.4" x2="343.42" y2="9.7"/>
<line x1="350.59" y1="221.4" x2="350.59" y2="219.1"/>
<line x1="350.59" y1="7.4" x2="350.59" y2="9.7"/>
<line x1="356.81" y1="221.4" x2="356.81" y2="219.1"/>
<line x1="356.81" y1="7.4" x2="356.81" y2="9.7"/>
<line x1="362.29" y1="221.4" x2="362.29" y2="219.1"/>
<line x1="362.29" y1="7.4" x2="362.29" y2="9.7"/>
<line x1="399.47" y1="221.4" x2="399.47" y2="219.1"/>
<line x1="399.47" y1="7.4" x2="399.47" y2="9.7"/>
<line x1="418.35" y1="221.4" x2="418.35" y2="219.1"/>
<line x1="418.35" y1="7.4" x2="418.35" y2="9.7"/>
<line x1="431.74" y1="221.4" x2="431.74" y2="219.1"/>
<line x1="431.74" y1="7.4" x2="431.74" y2="9.7"/>
<line x1="442.13" y1="221.4" x2="442.13" y2="219.1"/>
<line x1="442.13" y1="7.4" x2="442.13" y2="9.7"/>
<line x1="450.62" y1="221.4" x2="450.62" y2="219.1"/>
<line x1="450.62" y1="7.4" x2="450.62" y2="9.7"/>
<line x1="457.79" y1="221.4" x2="457.79" y2="219.1"/>
<line x1="457.79" y1="7.4" x2="457.79" y2="9.7"/>
<line x1="464.01" y1="221.4" x2="464.01" y2="219.1"/>
<line x1="464.01" y1="7.4" x2="464.01" y2="9.7"/>
<line x1="469.49" y1="221.4" x2="469.49" y2="219.1"/>
<line x1="469.49" y1="7.4" x2="469.49" y2="9.7"/>
<line x1="45.6" y1="221.40" x2="47.800000000000004" y2="221.40"/>
<line x1="474.4" y1="221.40" x2="472.2" y2="221.40"/>
<line x1="45.6" y1="213.76" x2="47.1" y2="213.76"/>
<line x1="474.4" y1="213.76" x2="472.9" y2="213.76"/>
<line x1="45.6" y1="206.11" x2="47.1" y2="206.11"/>
<line x1="474.4" y1="206.11" x2="472.9" y2="206.11"/>
<line x1="45.6" y1="198.47" x2="47.1" y2="198.47"/>
<line x1="474.4" y1="198.47" x2="472.9" y2="198.47"/>
<line x1="45.6" y1="190.83" x2="47.800000000000004" y2="190.83"/>
<line x1="474.4" y1="190.83" x2="472.2" y2="190.83"/>
<line x1="45.6" y1="183.19" x2="47.1" y2="183.19"/>
<line x1="474.4" y1="183.19" x2="472.9" y2="183.19"/>
<line x1="45.6" y1="175.54" x2="47.1" y2="175.54"/>
<line x1="474.4" y1="175.54" x2="472.9" y2="175.54"/>
<line x1="45.6" y1="167.90" x2="47.1" y2="167.90"/>
<line x1="474.4" y1="167.90" x2="472.9" y2="167.90"/>
<line x1="45.6" y1="160.26" x2="47.800000000000004" y2="160.26"/>
<line x1="474.4" y1="160.26" x2="472.2" y2="160.26"/>
<line x1="45.6" y1="152.61" x2="47.1" y2="152.61"/>
<line x1="474.4" y1="152.61" x2="472.9" y2="152.61"/>
<line x1="45.6" y1="144.97" x2="47.1" y2="144.97"/>
<line x1="474.4" y1="144.97" x2="472.9" y2="144.97"/>
<line x1="45.6" y1="137.33" x2="47.1" y2="137.33"/>
<line x1="474.4" y1="137.33" x2="472.9" y2="137.33"/>
<line x1="45.6" y1="129.69" x2="47.800000000000004" y2="129.69"/>
<line x1="474.4" y1="129.69" x2="472.2" y2="129.69"/>
<line x1="45.6" y1="122.04" x2="47.1" y2="122.04"/>
<line x1="474.4" y1="122.04" x2="472.9" y2="122.04"/>
<line x1="45.6" y1="114.40" x2="47.1" y2="114.40"/>
<line x1="474.4" y1="114.40" x2="472.9" y2="114.40"/>
<line x1="45.6" y1="106.76" x2="47.1" y2="106.76"/>
<line x1="474.4" y1="106.76" x2="472.9" y2="106.76"/>
<line x1="45.6" y1="99.11" x2="47.800000000000004" y2="99.11"/>
<line x1="474.4" y1="99.11" x2="472.2" y2="99.11"/>
<line x1="45.6" y1="91.47" x2="47.1" y2="91.47"/>
<line x1="474.4" y1="91.47" x2="472.9" y2="91.47"/>
<line x1="45.6" y1="83.83" x2="47.1" y2="83.83"/>
<line x1="474.4" y1="83.83" x2="472.9" y2="83.83"/>
<line x1="45.6" y1="76.19" x2="47.1" y2="76.19"/>
<line x1="474.4" y1="76.19" x2="472.9" y2="76.19"/>
<line x1="45.6" y1="68.54" x2="47.800000000000004" y2="68.54"/>
<line x1="474.4" y1="68.54" x2="472.2" y2="68.54"/>
<line x1="45.6" y1="60.90" x2="47.1" y2="60.90"/>
<line x1="474.4" y1="60.90" x2="472.9" y2="60.90"/>
<line x1="45.6" y1="53.26" x2="47.1" y2="53.26"/>
<line x1="474.4" y1="53.26" x2="472.9" y2="53.26"/>
<line x1="45.6" y1="45.61" x2="47.1" y2="45.61"/>
<line x1="474.4" y1="45.61" x2="472.9" y2="45.61"/>
<line x1="45.6" y1="37.97" x2="47.800000000000004" y2="37.97"/>
<line x1="474.4" y1="37.97" x2="472.2" y2="37.97"/>
<line x1="45.6" y1="30.33" x2="47.1" y2="30.33"/>
<line x1="474.4" y1="30.33" x2="472.9" y2="30.33"/>
<line x1="45.6" y1="22.69" x2="47.1" y2="22.69"/>
<line x1="474.4" y1="22.69" x2="472.9" y2="22.69"/>
<line x1="45.6" y1="15.04" x2="47.1" y2="15.04"/>
<line x1="474.4" y1="15.04" x2="472.9" y2="15.04"/>
<line x1="45.6" y1="7.40" x2="47.800000000000004" y2="7.40"/>
<line x1="474.4" y1="7.40" x2="472.2" y2="7.40"/>
</g>
<rect x="45.6" y="7.4" width="428.80" height="214.00" fill="none" stroke="#111" stroke-width="1.05"/>
<g font-size="13.0" fill="#000">
<path d="M763 0H583V1147Q518 1085 412.5 1023Q307 961 223 930V1104Q374 1175 487 1276Q600 1377 647 1472H763Z" transform="translate(26.33,11.85) scale(0.00635,-0.00635)"/><text x="33.56" y="11.85">.2</text>
<path d="M763 0H583V1147Q518 1085 412.5 1023Q307 961 223 930V1104Q374 1175 487 1276Q600 1377 647 1472H763Z" transform="translate(26.33,42.42) scale(0.00635,-0.00635)"/><text x="33.56" y="42.42">.0</text>
<text x="44.4" y="72.99" text-anchor="end">0.8</text>
<text x="44.4" y="103.56" text-anchor="end">0.6</text>
<text x="44.4" y="134.14" text-anchor="end">0.4</text>
<text x="44.4" y="164.71" text-anchor="end">0.2</text>
<text x="44.4" y="195.28" text-anchor="end">0.0</text>
<text x="44.4" y="225.85" text-anchor="end">−0.2</text>
</g>
<g font-size="12.6" fill="#000">
<path d="M763 0H583V1147Q518 1085 412.5 1023Q307 961 223 930V1104Q374 1175 487 1276Q600 1377 647 1472H763Z" transform="translate(38.79,234.70) scale(0.00615,-0.00615)"/><text x="45.80" y="234.70">0</text>
<path d="M763 0H583V1147Q518 1085 412.5 1023Q307 961 223 930V1104Q374 1175 487 1276Q600 1377 647 1472H763Z" transform="translate(141.69,234.70) scale(0.00615,-0.00615)"/><text x="148.70" y="234.70">00</text>
<path d="M763 0H583V1147Q518 1085 412.5 1023Q307 961 223 930V1104Q374 1175 487 1276Q600 1377 647 1472H763Z" transform="translate(245.89,234.70) scale(0.00615,-0.00615)"/><text x="252.89" y="234.70">000</text>
<path d="M763 0H583V1147Q518 1085 412.5 1023Q307 961 223 930V1104Q374 1175 487 1276Q600 1377 647 1472H763Z" transform="translate(358.00,235.90) scale(0.00615,-0.00615)"/><text x="365.01" y="235.9">0<tspan dy="-5.5" dx="0.6" font-size="8.8">4</tspan></text>
<path d="M763 0H583V1147Q518 1085 412.5 1023Q307 961 223 930V1104Q374 1175 487 1276Q600 1377 647 1472H763Z" transform="translate(465.00,235.90) scale(0.00615,-0.00615)"/><text x="472.01" y="235.9">0<tspan dy="-5.5" dx="0.5" font-size="8.8">5</tspan></text>
</g>
<!-- x label -->
<g font-size="13.6" fill="#000">
<text x="243.4" y="255.1"><tspan font-style="italic">s</tspan><tspan dx="5.4">[GeV]</tspan></text>
<path d="M232.5,251.9 L234.2,250.5" fill="none" stroke="#000" stroke-width="0.7"/>
<path d="M234.0,250.5 L237.0,256.6" fill="none" stroke="#000" stroke-width="1.3"/>
<path d="M237.0,256.8 L240.8,242.5 L251.3,242.5" fill="none" stroke="#000" stroke-width="0.8"/>
</g>
<!-- y label -->
<g font-size="13.6" fill="#000" transform="translate(19.5,152.6) rotate(-90)">
<text x="0" y="0"><tspan font-style="italic">R</tspan><tspan font-style="italic" font-size="10.2" dy="3.7" dx="-0.6">P</tspan><tspan dy="-3.7" dx="-0.2">, </tspan><tspan font-style="italic">R</tspan><tspan font-style="italic" font-size="10.2" dy="3.7" dx="-0.6">O</tspan><tspan dy="-3.7" dx="-0.2">, </tspan><tspan font-style="italic">R</tspan><tspan font-style="italic" font-size="10.2" dy="3.7" dx="-0.4">f</tspan><tspan font-size="9.6" dx="0.5" dy="0.9" stroke="#000" stroke-width="0.3">+</tspan><tspan font-style="italic" font-size="9.4" dx="0.3" dy="-0.9">ω</tspan></text>
</g>
<!-- legend -->
<rect x="380.4" y="59.6" width="58.1" height="107.8" rx="0.9" fill="#fff" stroke="#777" stroke-width="0.85"/>
<g stroke-width="1.85" fill="none">
<line x1="384" y1="68.6" x2="401" y2="68.6" stroke="#000"/>
<line x1="384" y1="90.7" x2="401" y2="90.7" stroke="#000" stroke-dasharray="6.2 4.6"/>
<line x1="384" y1="112.6" x2="401" y2="112.6" stroke="#f00"/>
<line x1="384" y1="134.6" x2="401" y2="134.6" stroke="#00f"/>
<line x1="384" y1="156.5" x2="401" y2="156.5" stroke="#0f0"/>
</g>
<g font-size="12.7" fill="#000">
<text x="408.4" y="72.5">pp</text>
<text x="408.4" y="95.1">p<tspan font-style="italic">p</tspan></text>
<line x1="415.7" y1="86.85" x2="423.3" y2="86.85" stroke="#000" stroke-width="1.0"/>
<text x="408.6" y="116.5"><tspan font-style="italic">R</tspan><tspan font-style="italic" font-size="8.6" dy="3.1">P</tspan></text>
<text x="408.6" y="138.5"><tspan font-style="italic">R</tspan><tspan font-style="italic" font-size="8.6" dy="3.1">O</tspan></text>
<text x="408.6" y="160.5"><tspan font-style="italic">R</tspan><tspan font-style="italic" font-size="8.6" dy="3.1" dx="0.4">f</tspan><tspan font-size="8.6" dx="1.2" dy="0.9" stroke="#000" stroke-width="0.3">+</tspan><tspan font-style="italic" font-size="8.6" dx="1.0" dy="-0.9">ω</tspan></text>
</g>
</svg>
</body></html>
